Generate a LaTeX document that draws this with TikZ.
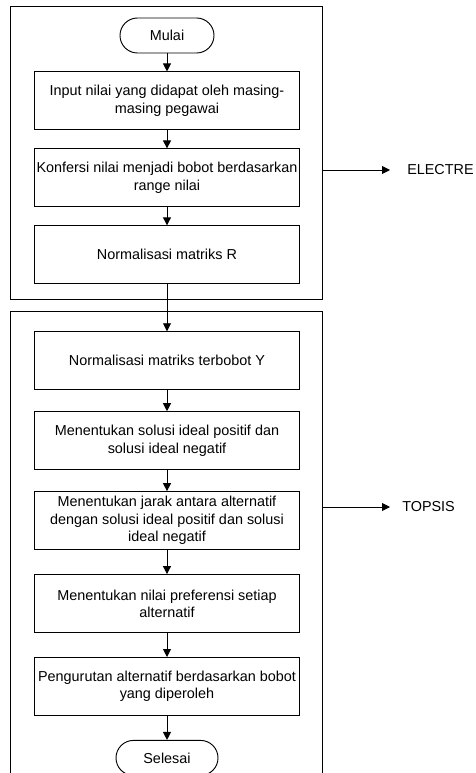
\documentclass[tikz,border=0pt]{standalone}
\usepackage{fontspec}
\setmainfont{Liberation Sans}
\usetikzlibrary{positioning, arrows.meta}

\begin{document}
\begin{tikzpicture}[
        x=0.75pt, y=-0.75pt,
        node distance=13.5pt,
        every node/.style={font=\fontsize{10.8}{13}\selectfont, align=center},
        proses/.style={draw, rectangle, line width=0.7pt, minimum width=198.75pt, minimum height=43.5pt, inner sep=1pt},
        terminal/.style={draw, rectangle, line width=0.7pt, minimum height=26.25pt, rounded corners=13.1pt},
        bingkai/.style={draw, line width=0.7pt},
        >={Triangle[length=6pt, width=6pt]}
    ]
        \useasboundingbox (0,0) rectangle (475,773);

        % bagian ELECTRE
        \node[terminal, minimum width=70.5pt] (mulai) at (167,35.5) {Mulai};
        \node[proses] (input) [below=of mulai] {Input nilai yang didapat oleh masing-\\masing pegawai};
        \node[proses] (konfersi) [below=of input] {Konfersi nilai menjadi bobot berdasarkan\\range nilai};
        \node[proses] (normr) [below=of konfersi] {Normalisasi matriks R};

        % bagian TOPSIS
        \node[proses] (normy) [below=35.25pt of normr] {Normalisasi matriks terbobot Y};
        \node[proses] (ideal) [below=15.75pt of normy] {Menentukan solusi ideal positif dan\\solusi ideal negatif};
        \node[proses] (jarak) [below=15.75pt of ideal] {Menentukan jarak antara alternatif\\dengan solusi ideal positif dan solusi\\ideal negatif};
        \node[proses] (preferensi) [below=18pt of jarak] {Menentukan nilai preferensi setiap\\alternatif};
        \node[proses] (urut) [below=18pt of preferensi] {Pengurutan alternatif berdasarkan bobot\\yang diperoleh};
        \node[terminal, minimum width=76.5pt] (selesai) [below=18pt of urut] {Selesai};

        \draw[->, line width=0.7pt] (mulai) -- (input);
        \draw[->, line width=0.7pt] (input) -- (konfersi);
        \draw[->, line width=0.7pt] (konfersi) -- (normr);
        \draw[->, line width=0.7pt] (normr) -- (normy);
        \draw[->, line width=0.7pt] (normy) -- (ideal);
        \draw[->, line width=0.7pt] (ideal) -- (jarak);
        \draw[->, line width=0.7pt] (jarak) -- (preferensi);
        \draw[->, line width=0.7pt] (preferensi) -- (urut);
        \draw[->, line width=0.7pt] (urut) -- (selesai);

        % bingkai
        \draw[bingkai] (10,6) rectangle (322,299);
        \draw[bingkai] (10,773) -- (10,311) -- (322,311) -- (322,773);

        % keterangan metode
        \node[anchor=west, inner sep=0pt] (electre) at (407,170) {ELECTRE};
        \coordinate (e1) at (322,170);
        \draw[->, line width=0.7pt, shorten >=12.75pt] (e1) -- (electre);
        \node[anchor=west, inner sep=0pt] (topsis) at (402,507) {TOPSIS};
        \coordinate (t1) at (322,507);
        \draw[->, line width=0.7pt, shorten >=9pt] (t1) -- (topsis);
    \end{tikzpicture}
\end{document}
